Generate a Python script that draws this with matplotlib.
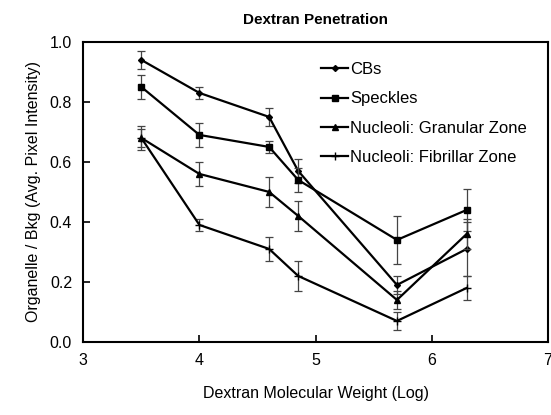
import numpy as np
import matplotlib.pyplot as plt

plt.rcParams['font.family'] = ['Liberation Sans', 'DejaVu Sans']

# Dextran molecular weight (log) and organelle/background ratios
mw = [3.5, 4.0, 4.6, 4.85, 5.7, 6.3]

cbs = [0.94, 0.83, 0.75, 0.57, 0.19, 0.31]
cbs_err = [0.03, 0.02, 0.03, 0.04, 0.03, 0.09]

speckles = [0.85, 0.69, 0.65, 0.54, 0.34, 0.44]
speckles_err = [0.04, 0.04, 0.02, 0.04, 0.08, 0.07]

granular = [0.68, 0.56, 0.50, 0.42, 0.14, 0.36]
granular_err = [0.04, 0.04, 0.05, 0.05, 0.03, 0.05]

fibrillar = [0.68, 0.39, 0.31, 0.22, 0.07, 0.18]
fibrillar_err = [0.03, 0.02, 0.04, 0.05, 0.03, 0.04]

series = [
    ("CBs", cbs, cbs_err, 'D', 3),
    ("Speckles", speckles, speckles_err, 's', 4.5),
    ("Nucleoli: Granular Zone", granular, granular_err, '^', 4.5),
    ("Nucleoli: Fibrillar Zone", fibrillar, fibrillar_err, '+', 6),
]

fig = plt.figure(figsize=(5.51, 4.15), dpi=100)
ax = fig.add_axes([0.151, 0.176, 0.8436, 0.723])

for name, y, err, mk, ms in series:
    ax.errorbar(mw, y, yerr=err, fmt='none', ecolor='#444444',
                elinewidth=0.9, capsize=3, capthick=0.9)
    ax.plot(mw, y, color='black', marker=mk, markersize=ms,
            linewidth=1.6, label=name)

ax.set_xlim(3, 7)
ax.set_ylim(0, 1.0)
ax.set_xticks([3, 4, 5, 6, 7])
ax.set_yticks(np.arange(0, 1.01, 0.2))
ax.set_yticklabels([f"{v:.1f}" for v in np.arange(0, 1.01, 0.2)])
ax.tick_params(direction='in', length=5, width=1.2, labelsize=11.5, pad=8)
for s in ax.spines.values():
    s.set_linewidth(1.5)

ax.set_title("Dextran Penetration", fontsize=11, fontweight='bold', pad=13)
ax.set_xlabel("Dextran Molecular Weight (Log)", fontsize=11.5, labelpad=13)
ax.set_ylabel("Organelle / Bkg (Avg. Pixel Intensity)", fontsize=11.5, labelpad=6)

leg = ax.legend(loc='upper left', bbox_to_anchor=(0.512, 0.932), frameon=False,
                fontsize=12, handlelength=1.6, handletextpad=0.15,
                labelspacing=0.85, borderpad=0, borderaxespad=0)

fig.savefig("out.png", dpi=100)
